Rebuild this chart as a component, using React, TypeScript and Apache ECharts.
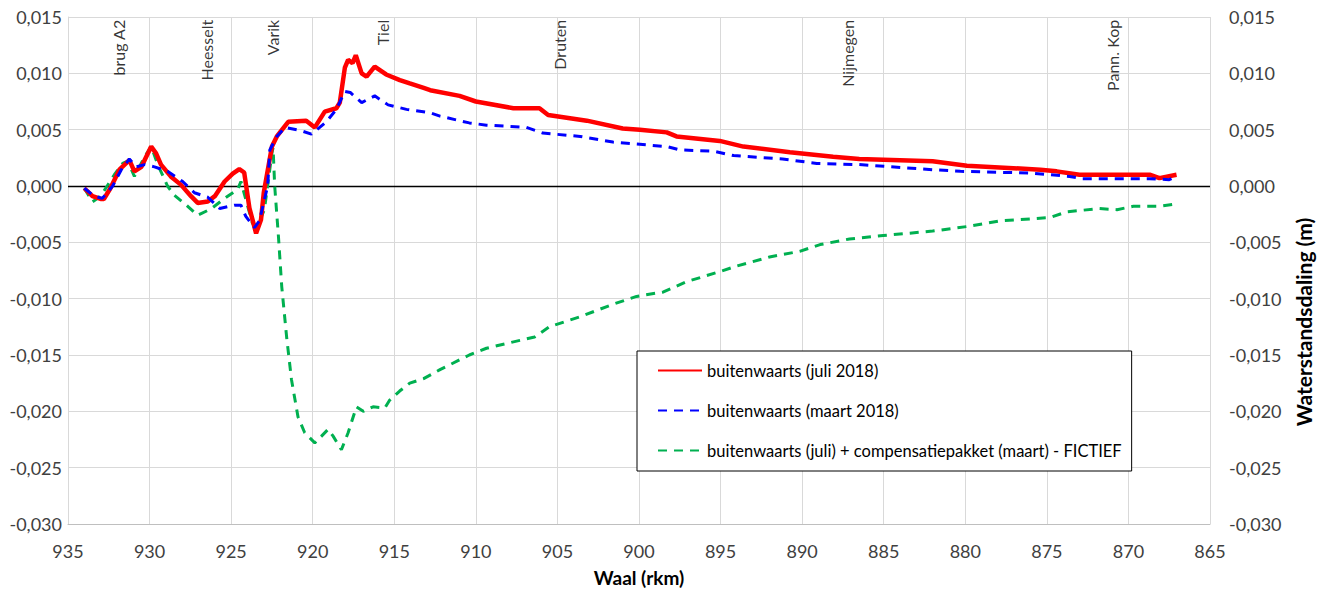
import React, { useEffect, useRef } from "react";
import * as echarts from "echarts";

// Waal river kilometre (rkm) versus water level drop (m)
const julyOutward: [number, number][] = [
  [934.0, -0.0002], [933.5, -0.0009], [933.0, -0.00115], [932.8, -0.00115], [932.4, -0.0002],
  [931.85, 0.00145], [931.24, 0.0023], [930.93, 0.0013], [930.5, 0.0017], [929.9, 0.0035],
  [929.6, 0.0029], [929.3, 0.0019], [928.7, 0.00085], [928.07, 0.0001], [927.46, -0.0009],
  [927.05, -0.0015], [926.43, -0.00137], [926.0, -0.0009], [925.4, 0.0004], [924.9, 0.0011],
  [924.5, 0.0015], [924.2, 0.0012], [923.88, -0.00195], [923.47, -0.0042], [923.17, -0.003],
  [923.0, -0.0006], [922.5, 0.0035], [922.2, 0.0044], [921.5, 0.0057], [920.4, 0.0058],
  [919.87, 0.0052], [919.26, 0.0066], [918.55, 0.0069], [918.34, 0.0074], [918.03, 0.0105],
  [917.83, 0.0112], [917.56, 0.0109], [917.36, 0.0116], [917.0, 0.01], [916.7, 0.0097],
  [916.2, 0.0106], [915.5, 0.0099], [914.66, 0.0094], [914.05, 0.0091], [913.2, 0.0087],
  [912.8, 0.0085], [911.0, 0.008], [910.0, 0.0075], [907.7, 0.0069], [906.1, 0.0069],
  [905.57, 0.0063], [903.2, 0.0058], [901.0, 0.0051], [899.95, 0.005], [898.3, 0.00476],
  [897.7, 0.0044], [895.05, 0.004], [893.6, 0.0035], [890.75, 0.003], [888.1, 0.0026],
  [886.5, 0.0024], [882.0, 0.0022], [879.9, 0.0018], [875.4, 0.00145], [874.4, 0.0013],
  [873.0, 0.001], [868.7, 0.001], [868.1, 0.0007], [867.05, 0.001],
];

const marchOutward: [number, number][] = [
  [934.0, -0.0002], [933.4, -0.0009], [932.9, -0.0011], [932.26, 0], [931.75, 0.0014],
  [931.24, 0.0024], [930.83, 0.0017], [930.3, 0.0019], [929.7, 0.0017], [928.9, 0.0013],
  [927.97, 0.0004], [927.25, -0.0006], [926.43, -0.001], [925.7, -0.002], [924.8, -0.0017],
  [924.4, -0.0017], [924.1, -0.0027], [923.57, -0.0037], [923.27, -0.0031], [922.76, 0],
  [922.63, 0.0032], [922.2, 0.0044], [921.7, 0.0052], [920.7, 0.0049], [920.08, 0.0046],
  [919.16, 0.0057], [918.55, 0.0068], [918.03, 0.0084], [917.7, 0.0083], [917.0, 0.0074],
  [916.2, 0.008], [915.38, 0.0072], [914.25, 0.0068], [912.8, 0.0065], [912.2, 0.0062],
  [910.4, 0.0056], [909.35, 0.0054], [906.9, 0.0052], [905.9, 0.0047], [903.6, 0.0044],
  [901.6, 0.0039], [899.95, 0.0037], [898.3, 0.0035], [897.5, 0.0032], [895.45, 0.0031],
  [894.2, 0.0027], [891.2, 0.0024], [889.1, 0.002], [886.5, 0.0019], [882.0, 0.00145],
  [880.3, 0.0013], [876.0, 0.00115], [873.6, 0.00085], [872.8, 0.00065], [868.7, 0.00065],
  [867.5, 0.00056], [867.05, 0.00085],
];

const fictitiousPackage: [number, number][] = [
  [934.0, -0.0002], [933.5, -0.0014], [933.0, -0.0009], [932.6, 0], [932.16, 0.001],
  [931.65, 0.002], [931.34, 0.0022], [930.93, 0.00085], [930.3, 0.0026], [929.9, 0.0035],
  [929.5, 0.0019], [928.9, 0], [928.5, -0.0008], [927.66, -0.0018], [927.05, -0.0026],
  [926.2, -0.002], [925.4, -0.0011], [924.6, -0.0003], [924.4, 0.0004], [924.1, -0.0012],
  [923.7, -0.0033], [923.4, -0.0036], [922.96, -0.0021], [922.5, 0.0029], [922.43, 0.0034],
  [922.33, 0], [922.1, -0.0045], [921.9, -0.0089], [921.6, -0.0134], [921.3, -0.0172],
  [920.9, -0.0205], [920.49, -0.0219], [919.87, -0.0228], [919.46, -0.0222], [919.06, -0.0216],
  [918.75, -0.0222], [918.24, -0.0234], [917.83, -0.0219], [917.32, -0.0196], [916.9, -0.02],
  [916.3, -0.0196], [915.58, -0.0197], [915.28, -0.019], [914.67, -0.0182], [914.05, -0.0175],
  [913.2, -0.0171], [912.2, -0.0163], [910.4, -0.015], [909.35, -0.0144], [907.3, -0.0137],
  [906.4, -0.0134], [905.5, -0.0125], [903.6, -0.0116], [901.6, -0.0105], [900.15, -0.0098],
  [898.5, -0.0094], [897.1, -0.0085], [895.05, -0.0076], [894.0, -0.0071], [892.0, -0.0063],
  [890.15, -0.0058], [888.9, -0.0052], [887.1, -0.0047], [885.03, -0.0044], [882.0, -0.004],
  [879.9, -0.0036], [877.9, -0.0031], [874.8, -0.0028], [873.8, -0.0023], [871.8, -0.002],
  [870.7, -0.0021], [869.7, -0.0018], [868.1, -0.0018], [867.05, -0.0016],
];

const placeNames = ["brug A2", "Heesselt", "Varik", "Tiel", "Druten", "Nijmegen", "Pann. Kop"];
const placeKm = [931.9, 926.5, 922.45, 915.7, 904.85, 887.2, 870.95];

const seriesNames = [
  "buitenwaarts (juli 2018)",
  "buitenwaarts (maart 2018)",
  "buitenwaarts (juli) + compensatiepakket (maart) - FICTIEF",
];

const KM_MIN = 865;
const KM_MAX = 935;
const Y_MIN = -0.03;
const Y_MAX = 0.015;
const Y_STEP = 0.005;

const WIDTH = 1320;
const HEIGHT = 589;
const FONT = "Lato, 'Open Sans', sans-serif";
// place names hang just below the top edge of the plot
const PLACE_LABEL_Y = Y_MAX - 0.00025;

const fmtY = (v: number) => {
  const x = Math.abs(v) < 1e-9 ? 0 : v;
  return x.toFixed(3).replace(".", ",");
};

export default function App() {
  const ref = useRef<HTMLDivElement>(null);

  useEffect(() => {
    if (!ref.current) return;
    const chart = echarts.init(ref.current, null, {
      renderer: "svg",
      width: WIDTH,
      height: HEIGHT,
    });

    const yAxisCommon = {
      type: "value" as const,
      min: Y_MIN,
      max: Y_MAX,
      interval: Y_STEP,
      axisTick: { show: false },
      axisLabel: {
        formatter: fmtY,
        color: "#404040",
        fontSize: 18,
        fontFamily: FONT,
      },
    };

    chart.setOption({
      animation: false,
      backgroundColor: "#ffffff",
      grid: {
        left: 68,
        right: 110,
        top: 17,
        bottom: 65,
        containLabel: false,
        outerBoundsMode: "none",
      },
      legend: {
        data: seriesNames,
        orient: "vertical",
        left: 637,
        top: 351,
        itemWidth: 44,
        itemHeight: 14,
        itemGap: 23,
        padding: [11, 10, 12, 20],
        backgroundColor: "#ffffff",
        borderColor: "#000000",
        borderWidth: 1,
        itemStyle: { color: "transparent", borderWidth: 0 },
        textStyle: { fontSize: 16.5, color: "#000000", fontFamily: FONT },
      },
      xAxis: {
        type: "value",
        inverse: true,
        min: KM_MIN,
        max: KM_MAX,
        interval: 5,
        name: "Waal (rkm)",
        nameLocation: "middle",
        nameGap: 44,
        nameTextStyle: { fontSize: 19, fontWeight: "bold", color: "#000000", fontFamily: FONT },
        axisLine: { onZero: false, lineStyle: { color: "#bfbfbf", width: 1 } },
        axisTick: { show: false },
        axisLabel: { color: "#404040", fontSize: 18, fontFamily: FONT, margin: 18 },
        splitLine: { show: true, lineStyle: { color: "#d9d9d9", width: 1 } },
      },
      yAxis: [
        {
          ...yAxisCommon,
          position: "left",
          axisLine: { show: true, lineStyle: { color: "#d9d9d9" } },
          axisLabel: { ...yAxisCommon.axisLabel, margin: 6 },
          splitLine: { show: true, lineStyle: { color: "#d9d9d9", width: 1 } },
        },
        {
          ...yAxisCommon,
          position: "right",
          axisLine: { show: false },
          axisLabel: { ...yAxisCommon.axisLabel, margin: 19 },
          splitLine: { show: false },
        },
      ],
      graphic: [
        {
          type: "text",
          x: 1303,
          y: 322,
          rotation: Math.PI / 2,
          style: {
            text: "Waterstandsdaling (m)",
            font: `bold 21px ${FONT}`,
            fill: "#000000",
            align: "center",
            verticalAlign: "middle",
          },
        },
      ],
      series: [
        {
          name: seriesNames[0],
          type: "line",
          data: julyOutward,
          symbol: "none",
          z: 4,
          lineStyle: { color: "#ff0000", width: 4.5 },
          itemStyle: { color: "#ff0000" },
          markLine: {
            silent: true,
            symbol: "none",
            label: { show: false },
            lineStyle: { color: "#000000", width: 1.3, type: "solid" },
            data: [{ yAxis: 0 }],
            z: 1,
          },
        },
        {
          name: seriesNames[1],
          type: "line",
          data: marchOutward,
          symbol: "none",
          z: 5,
          lineStyle: { color: "#0000ff", width: 3, type: [9, 7] },
          itemStyle: { color: "#0000ff" },
        },
        {
          name: seriesNames[2],
          type: "line",
          data: fictitiousPackage,
          symbol: "none",
          z: 3,
          lineStyle: { color: "#00b050", width: 3, type: [9, 7] },
          itemStyle: { color: "#00b050" },
        },
        {
          name: "plaatsen",
          type: "scatter",
          data: placeKm.map((km, i) => ({ value: [km, PLACE_LABEL_Y], name: placeNames[i] })),
          symbolSize: 1,
          itemStyle: { color: "transparent" },
          silent: true,
          z: 6,
          label: {
            show: true,
            formatter: (p: any) => p.name,
            position: "inside",
            rotate: 90,
            align: "right",
            verticalAlign: "middle",
            color: "#000000",
            fontSize: 16,
            fontFamily: FONT,
          },
        },
      ],
    });

    return () => chart.dispose();
  }, []);

  return (
    <div
      ref={ref}
      style={{ position: "fixed", left: 0, top: 0, width: WIDTH, height: HEIGHT }}
    />
  );
}
